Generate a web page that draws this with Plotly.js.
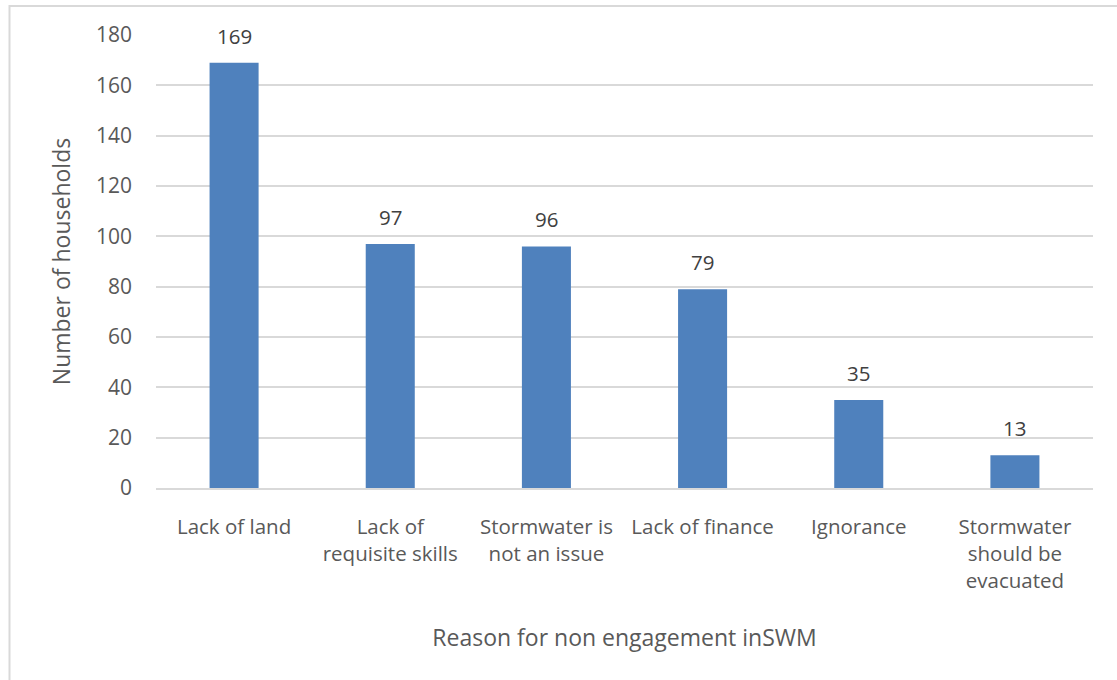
<!DOCTYPE html>
<html>
<head>
<meta charset="utf-8">
<script src="https://cdn.plot.ly/plotly-3.0.1.min.js"></script>
<style>html,body{margin:0;padding:0;background:#fff;}#chart{width:1117px;height:680px;}</style>
</head>
<body>
<div id="chart"></div>
<script>
const categories = ["Lack of land", "Lack of<br>requisite skills", "Stormwater is<br>not an issue", "Lack of finance", "Ignorance", "Stormwater<br>should be<br>evacuated"];
const values = [169, 97, 96, 79, 35, 13];
const yTicks = [0, 20, 40, 60, 80, 100, 120, 140, 160, 180];
const xTitle = "Reason for non engagement inSWM";
const yTitle = "Number of households";

const FONT = "Open Sans, Noto Sans, sans-serif";
const TXT = "#595959";

const annotations = categories.map((c, i) => ({
  x: c, y: values[i], xref: "x", yref: "y",
  text: String(values[i]), showarrow: false,
  yanchor: "bottom", yshift: 11,
  font: {family: FONT, size: 20.5, color: "#404040"}
}));

Plotly.newPlot("chart", [{
  type: "bar",
  x: categories,
  y: values,
  marker: {color: "#4F81BD"},
  hoverinfo: "x+y"
}], {
  width: 1117, height: 680,
  margin: {l: 156, r: 24, t: 35, b: 192},
  paper_bgcolor: "#fff", plot_bgcolor: "#fff",
  bargap: 0.686,
  showlegend: false,
  font: {family: FONT, color: TXT},
  xaxis: {
    tickfont: {family: FONT, size: 20.5, color: TXT},
    ticks: "", showgrid: false, zeroline: false,
    showline: true, linecolor: "#D9D9D9", linewidth: 1.5,
    ticklabelstandoff: 20,
    automargin: false,
    title: {text: xTitle, font: {family: FONT, size: 23, color: TXT}, standoff: 37}
  },
  yaxis: {
    range: [0, 180],
    tickvals: yTicks,
    tickfont: {family: FONT, size: 21, color: TXT},
    ticks: "", showgrid: true, gridcolor: "#D9D9D9", gridwidth: 1.5,
    zeroline: false, showline: false,
    ticklabelstandoff: 23,
    automargin: false,
    title: {text: yTitle, font: {family: FONT, size: 23, color: TXT}, standoff: 18}
  },
  annotations: annotations,
  shapes: [{
    type: "rect", xref: "paper", yref: "paper",
    x0: (9.5 - 156) / 937, x1: 1.2,
    y0: -0.6, y1: 1 + (35 - 6) / 453,
    line: {color: "#D9D9D9", width: 2}, fillcolor: "rgba(0,0,0,0)", layer: "below"
  }]
}, {displayModeBar: false, staticPlot: false});
</script>
</body>
</html>
